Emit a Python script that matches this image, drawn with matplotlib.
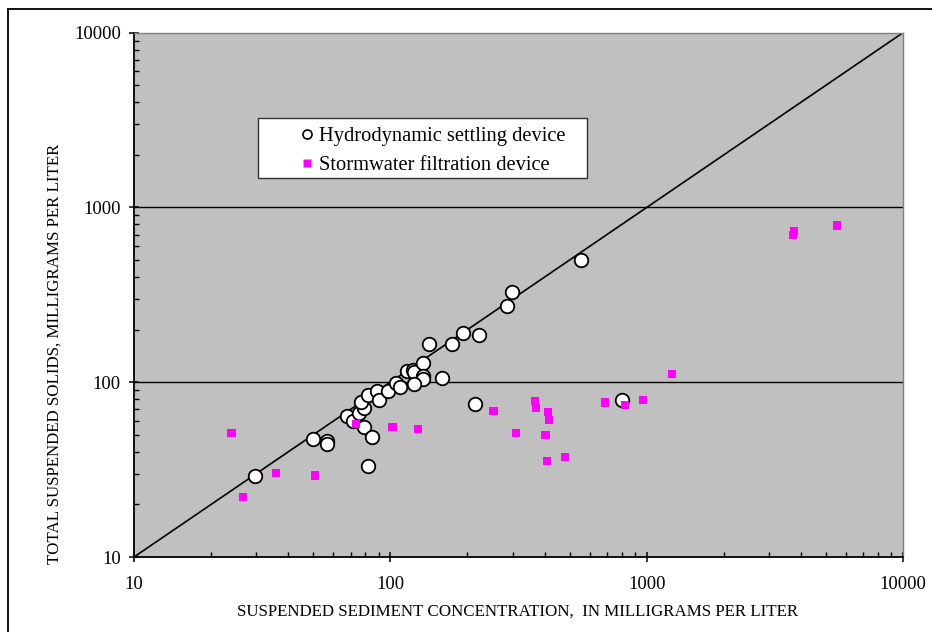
import matplotlib
matplotlib.use("Agg")
import matplotlib.pyplot as plt
from matplotlib.lines import Line2D
from matplotlib.patches import Rectangle
from matplotlib.ticker import LogLocator, NullFormatter, FixedLocator, FixedFormatter

plt.rcParams['font.family'] = ['Liberation Serif', 'DejaVu Serif']

# Hydrodynamic settling device (SSC, TSS), mg/L
hsd_ssc = [29.7, 50.1, 56.5, 56.5, 81.7, 67.6, 71.3, 75.3, 78.9, 77.1,
           78.9, 84.5, 81.7, 88.5, 90.2, 97.7, 105, 108.9, 116.1, 122.2,
           123.6, 134.3, 134.6, 134.6, 123.6, 141.3, 158.7, 174.6, 192.8, 221.8,
           214.1, 298.5, 284.4, 554.6, 801.8]
hsd_tss = [29.2, 47.5, 46.1, 44.3, 33.0, 64.3, 60.0, 66.4, 71.5, 77.1,
           55.6, 48.4, 84.6, 89.1, 78.7, 89.1, 98.6, 93.9, 115.9, 116.9,
           113.9, 128.3, 108.4, 103.9, 97.3, 164.8, 106.1, 164.8, 191.9, 185.4,
           75.0, 329.6, 271.6, 502, 79.1]

# Stormwater filtration device (SSC, TSS), mg/L
sfd_ssc = [24.0, 35.9, 50.8, 73.3, 102.1, 128.3, 252.3, 26.6, 365.9, 369.8,
           412.5, 417, 309, 402.5, 407.5, 480.5, 688.6, 821.4, 968, 1259,
           3760, 3713, 5520]
sfd_tss = [51.1, 30.3, 29.2, 57.7, 55.6, 53.8, 68.4, 22.0, 77.8, 71.1,
           67.5, 60.8, 51.1, 50.1, 35.4, 37.3, 76.4, 73.8, 79.1, 111.8,
           736, 695, 790]

line_1to1 = [10, 10000]
decades = [10, 100, 1000, 10000]
decade_labels = ['10', '100', '1000', '10000']

W, H = 932, 632
AX_L, AX_R, AX_T, AX_B = 134, 903, 32.7, 557


def ax_frac(px, py):
    # pixel position in the picture -> axes fraction
    return (px - AX_L) / (AX_R - AX_L), (AX_B - py) / (AX_B - AX_T)


fig = plt.figure(figsize=(W / 100, H / 100), dpi=100)
ax = fig.add_axes([AX_L / W, 1 - AX_B / H, (AX_R - AX_L) / W, (AX_B - AX_T) / H])
ax.set_facecolor('#C0C0C0')

ax.set_xscale('log')
ax.set_yscale('log')
ax.set_xlim(10, 10000)
ax.set_ylim(10, 10000)

for v in [100, 1000]:
    ax.axhline(v, color='black', lw=1.0, zorder=1)

ax.plot(line_1to1, line_1to1, color='black', lw=1.2, zorder=2)

ax.scatter(hsd_ssc, hsd_tss, s=95, marker='o', facecolor='white',
           edgecolor='black', linewidths=1.3, zorder=3)
ax.scatter(sfd_ssc, sfd_tss, s=36, marker='s', facecolor='#FF00FF',
           edgecolor='none', zorder=4)

for s in ['left', 'bottom']:
    ax.spines[s].set_color('black')
    ax.spines[s].set_linewidth(1.3)
for s in ['top', 'right']:
    ax.spines[s].set_color('#808080')
    ax.spines[s].set_linewidth(1.0)

for axis in [ax.xaxis, ax.yaxis]:
    axis.set_major_locator(FixedLocator(decades))
    axis.set_major_formatter(FixedFormatter(decade_labels))
    axis.set_minor_locator(LogLocator(base=10, subs=range(2, 10)))
    axis.set_minor_formatter(NullFormatter())

ax.tick_params(which='major', direction='inout', length=7, width=1.1,
               labelsize=13.4, color='black')
ax.tick_params(axis='x', which='major', pad=10)
ax.tick_params(axis='y', which='major', pad=6)
ax.tick_params(which='minor', direction='in', length=3.5, width=1.0)

# legend box drawn separately so the markers can sit close to the text
x0, y0 = ax_frac(258, 178)
x1, y1 = ax_frac(587, 118)
ax.add_patch(Rectangle((x0, y0), x1 - x0, y1 - y0, transform=ax.transAxes,
                       facecolor='white', edgecolor='#333333', lw=1.0, zorder=5))

handles = [
    Line2D([], [], ls='none', marker='o', markersize=6.5, markerfacecolor='white',
           markeredgecolor='black', markeredgewidth=1.2, label='Hydrodynamic settling device'),
    Line2D([], [], ls='none', marker='s', markersize=5.5, markerfacecolor='#FF00FF',
           markeredgecolor='none', label='Stormwater filtration device'),
]
leg = ax.legend(handles=handles, loc='upper left', bbox_to_anchor=ax_frac(299, 127),
                fontsize=14.8, frameon=False, handletextpad=0.2, borderpad=0,
                labelspacing=0.45, handlelength=0.78, borderaxespad=0)
leg.set_zorder(6)

fig.text(518 / W, 1 - 612 / H, 'SUSPENDED SEDIMENT CONCENTRATION,  IN MILLIGRAMS PER LITER',
         ha='center', va='center', fontsize=12.2)
fig.text(55 / W, 1 - 354 / H, 'TOTAL SUSPENDED SOLIDS, MILLIGRAMS PER LITER',
         ha='center', va='center', rotation=90, fontsize=12.2)

# outer frame around the chart
fig.add_artist(Line2D([8 / W, 1], [1 - 9 / H, 1 - 9 / H], color='black', lw=1.3))
fig.add_artist(Line2D([8 / W, 8 / W], [0, 1 - 9 / H], color='black', lw=1.3))

fig.savefig('out.png', dpi=100)
